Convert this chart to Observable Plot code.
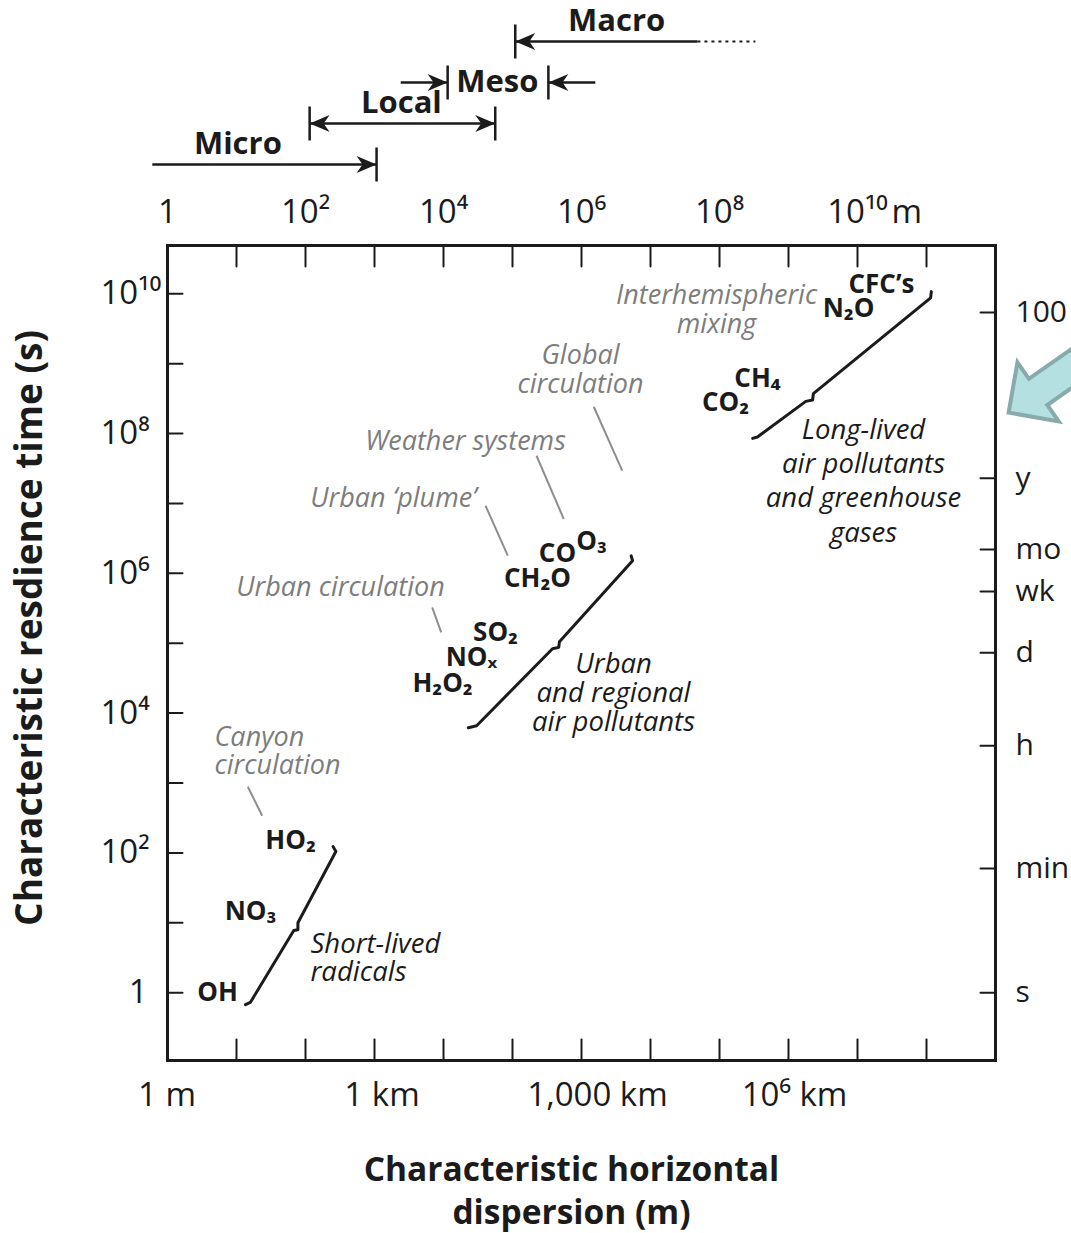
<!DOCTYPE html>
<html>
<head>
<meta charset="utf-8">
<script src="https://cdn.jsdelivr.net/npm/d3@7"></script>
<script src="https://cdn.jsdelivr.net/npm/@observablehq/plot@0.6"></script>
<style>
  html, body { margin: 0; padding: 0; background: #fff; }
  #chart svg { display: block; }
</style>
</head>
<body>
<div id="chart"></div>
<script>
// ===================== DATA (log10 values) =====================
// Top scale bars: horizontal extent in log10(metres)
const scaleRows = ["Macro", "Meso", "Local", "Micro"];
const scaleLineRow  = ["Micro", "Local", "Meso", "Meso", "Macro"];
const scaleLineFrom = [-0.22, 2.06, 3.38, 5.52, 5.04];
const scaleLineTo   = [3.03, 4.75, 4.06, 6.20, 7.68];
const scaleDottedRow  = ["Macro"];
const scaleDottedFrom = [7.68];
const scaleDottedTo   = [8.52];
const scaleBarRow = ["Micro", "Local", "Local", "Meso", "Meso", "Macro"];
const scaleBarAt  = [3.03, 2.06, 4.75, 4.06, 5.52, 5.04];
const scaleHeadRow = ["Micro", "Local", "Local", "Meso", "Meso", "Macro"];
const scaleHeadAt  = [3.03, 2.06, 4.75, 4.06, 5.52, 5.04];
const scaleHeadDir = ["right", "left", "right", "right", "left", "left"];
const scaleLabelAbove = ["Micro", "Local", "Macro"];
const scaleLabelAboveAt = [1.02, 3.39, 6.51];
const scaleLabelInline = ["Meso"];
const scaleLabelInlineAt = [4.78];

// Axes
const xDecadeTicks = [1e1, 1e2, 1e3, 1e4, 1e5, 1e6, 1e7, 1e8, 1e9, 1e10, 1e11];
const yDecadeTicks = [1, 1e1, 1e2, 1e3, 1e4, 1e5, 1e6, 1e7, 1e8, 1e9, 1e10];
const topTickValues = [1, 1e2, 1e4, 1e6, 1e8, 1e10];
const topTickLabels = ["1", "10²", "10⁴", "10⁶", "10⁸", "10¹⁰"];
const topTickUnit = "m";
const bottomLabelLogX = [-0.007, 3.109, 6.232, 9.087];
const bottomTickLabels = ["1 m", "1 km", "1,000 km", "10⁶ km"];
const leftTickValues = [1e2, 1e4, 1e6, 1e8, 1e10];
const leftTickLabels = ["10²", "10⁴", "10⁶", "10⁸", "10¹⁰"];
const leftUnitValue = [1];
const leftUnitLabel = ["1"];
const rightTickValues = [1, 60, 3.4e3, 7.3e4, 5.5e5, 2.2e6, 2.3e7, 5.4e9];
const rightTickLabels = ["s", "min", "h", "d", "wk", "mo", "y", "100"];
const xTitle = "Characteristic horizontal\ndispersion (m)";
const yTitle = "Characteristic resdience time (s)";

// Curves (log10 x in m, log10 y in s) — with end hooks and the small mid break
const shortLivedLogX = [1.13, 1.20, 1.83, 1.89, 1.89, 2.44, 2.40];
const shortLivedLogY = [-0.17, -0.14, 0.89, 0.90, 1.00, 2.02, 2.09];
const urbanLogX = [4.36, 4.48, 5.58, 5.67, 5.68, 6.74, 6.72];
const urbanLogY = [3.79, 3.82, 4.92, 4.94, 5.02, 6.18, 6.25];
const longLivedLogX = [8.48, 8.55, 9.25, 9.35, 9.36, 11.06, 11.07];
const longLivedLogY = [7.93, 7.95, 8.46, 8.48, 8.57, 9.94, 10.03];

// Species labels
const speciesLabels = ["OH", "NO₃", "HO₂", "H₂O₂", "NOₓ", "SO₂", "CH₂O", "CO", "O₃", "CO₂", "CH₄", "N₂O", "CFC’s"];
const speciesLogX = [0.725, 1.203, 1.783, 3.986, 4.406, 4.754, 5.362, 5.652, 6.145, 8.087, 8.551, 9.870, 10.348];
const speciesLogY = [0.0, 1.160, 2.175, 4.421, 4.793, 5.150, 5.923, 6.280, 6.452, 8.440, 8.784, 9.785, 10.129];

// Circulation annotations (gray)
const circLabels = ["Interhemispheric\nmixing", "Global\ncirculation", "Weather systems", "Urban ‘plume’", "Urban circulation"];
const circLogX = [7.957, 5.986, 4.319, 3.275, 2.507];
const circLogY = [9.778, 8.920, 7.897, 7.082, 5.808];
const canyonLabel = ["Canyon\ncirculation"];
const canyonLogX = [0.681];
const canyonLogY = [3.462];

// Gray leader lines
const leaderX1 = [1.164, 3.836, 4.609, 5.348, 6.178];
const leaderY1 = [2.947, 5.512, 6.967, 7.682, 8.383];
const leaderX2 = [1.372, 3.967, 4.932, 5.743, 6.590];
const leaderY2 = [2.532, 5.155, 6.252, 6.777, 7.468];

// Group descriptions (black italic)
const shortDesc = ["Short-lived\nradicals"];
const shortDescLogX = [2.072];
const shortDescLogY = [0.501];
const urbanDesc = ["Urban\nand regional\nair pollutants"];
const urbanDescLogX = [6.464];
const urbanDescLogY = [4.292];
const longDesc = ["Long-lived\nair pollutants\nand greenhouse\ngases"];
const longDescLogX = [10.087];
const longDescLogY = [7.346];

// Teal pointer arrow (tip position)
const pointerLogX = [12.19];
const pointerLogY = [8.30];

// ===================== RENDERING =====================
const font = "'Open Sans', 'Noto Sans', 'DejaVu Sans', sans-serif";
const ink = "#1b1b1b";
const gray = "#7d7d7d";
const lg = (v) => Math.pow(10, v);
const idx = (a) => a.map((_, i) => i);

const headSymbol = {draw(c) { c.moveTo(0, 0); c.lineTo(-20, -8.5); c.lineTo(-14, 0); c.lineTo(-20, 8.5); c.closePath(); }};
const barSymbol = {draw(c) { c.moveTo(0, -17); c.lineTo(0, 17); }};
const tickShape = {draw(c, l) { c.moveTo(0, 0); c.lineTo(0, -l); }};
const blockArrow = {draw(c) {
  c.moveTo(0, 0); c.lineTo(-36, -36); c.lineTo(-36, -16); c.lineTo(-160, -16);
  c.lineTo(-160, 16); c.lineTo(-36, 16); c.lineTo(-36, 36); c.closePath();
}};

const tickFont = 33;
const italicFont = 27.5;
const grayFont = 27;
const speciesFont = 26;

const topPlot = Plot.plot({
  width: 1071, height: 190,
  marginLeft: 167, marginRight: 76, marginTop: 0, marginBottom: 0,
  x: {type: "log", domain: [1, 1e12], axis: null},
  y: {type: "point", domain: scaleRows, range: [40, 165], padding: 0, axis: null},
  style: {fontFamily: font, background: "white", overflow: "visible"},
  marks: [
    Plot.link(idx(scaleLineRow), {
      x1: i => lg(scaleLineFrom[i]), x2: i => lg(scaleLineTo[i]),
      y1: i => scaleLineRow[i], y2: i => scaleLineRow[i],
      stroke: ink, strokeWidth: 2.5
    }),
    Plot.link(idx(scaleDottedRow), {
      x1: i => lg(scaleDottedFrom[i]), x2: i => lg(scaleDottedTo[i]),
      y1: i => scaleDottedRow[i], y2: i => scaleDottedRow[i],
      stroke: ink, strokeWidth: 2, strokeDasharray: "3,4"
    }),
    Plot.dot(idx(scaleBarRow), {
      x: i => lg(scaleBarAt[i]), y: i => scaleBarRow[i],
      symbol: barSymbol, stroke: ink, strokeWidth: 2.5, fill: "none"
    }),
    Plot.dot(idx(scaleHeadRow), {
      x: i => lg(scaleHeadAt[i]), y: i => scaleHeadRow[i],
      rotate: i => scaleHeadDir[i] === "left" ? 180 : 0,
      symbol: headSymbol, fill: ink, stroke: "none"
    }),
    Plot.text(scaleLabelAbove, {
      x: (d, i) => lg(scaleLabelAboveAt[i]), y: d => d, text: d => d,
      dy: -20, fontSize: 31, fontWeight: 700, fill: ink
    }),
    Plot.text(scaleLabelInline, {
      x: (d, i) => lg(scaleLabelInlineAt[i]), y: d => d, text: d => d,
      fontSize: 31, fontWeight: 700, fill: ink
    })
  ]
});

const mainPlot = Plot.plot({
  width: 1071, height: 1043,
  marginLeft: 167, marginRight: 76, marginTop: 55, marginBottom: 173,
  x: {type: "log", domain: [1, 1e12], axis: null},
  y: {type: "log", domain: [lg(-0.97), lg(10.69)], axis: null},
  style: {fontFamily: font, background: "white", overflow: "visible"},
  marks: [
    // pointer arrow (outside right edge)
    Plot.dot(idx(pointerLogX), {
      x: i => lg(pointerLogX[i]), y: i => lg(pointerLogY[i]),
      symbol: blockArrow, rotate: 145,
      fill: "#b5e0e2", stroke: "#88aaab", strokeWidth: 4, strokeLinejoin: "miter"
    }),
    // inward ticks
    Plot.vector(xDecadeTicks, {x: d => d, frameAnchor: "top", length: 21, rotate: 180, anchor: "start", shape: tickShape, stroke: ink, strokeWidth: 2}),
    Plot.vector(xDecadeTicks, {x: d => d, frameAnchor: "bottom", length: 21, rotate: 0, anchor: "start", shape: tickShape, stroke: ink, strokeWidth: 2}),
    Plot.vector(yDecadeTicks, {y: d => d, frameAnchor: "left", length: 15, rotate: 90, anchor: "start", shape: tickShape, stroke: ink, strokeWidth: 2}),
    Plot.vector(rightTickValues, {y: d => d, frameAnchor: "right", length: 15, rotate: -90, anchor: "start", shape: tickShape, stroke: ink, strokeWidth: 2}),
    Plot.frame({stroke: ink, strokeWidth: 3}),
    // tick labels
    Plot.text(topTickValues, {x: d => d, text: (d, i) => topTickLabels[i], frameAnchor: "top", dy: -33, lineAnchor: "middle", textAnchor: "middle", fontSize: tickFont, fill: ink}),
    Plot.text([1e10], {x: d => d, text: () => topTickUnit, frameAnchor: "top", dy: -33, dx: 34, lineAnchor: "middle", textAnchor: "start", fontSize: tickFont, fill: ink}),
    Plot.text(bottomTickLabels, {x: (d, i) => lg(bottomLabelLogX[i]), text: d => d, frameAnchor: "bottom", dy: 35, lineAnchor: "middle", textAnchor: "middle", fontSize: tickFont, fill: ink}),
    Plot.text(leftTickValues, {y: d => d, text: (d, i) => leftTickLabels[i], frameAnchor: "left", dx: -67, lineAnchor: "middle", textAnchor: "start", fontSize: tickFont, fill: ink}),
    Plot.text(leftUnitValue, {y: d => d, text: (d, i) => leftUnitLabel[i], frameAnchor: "left", dx: -20, lineAnchor: "middle", textAnchor: "end", fontSize: tickFont, fill: ink}),
    Plot.text(rightTickValues, {y: d => d, text: (d, i) => rightTickLabels[i], frameAnchor: "right", dx: 20, lineAnchor: "middle", textAnchor: "start", fontSize: 30, fill: ink}),
    // axis titles
    Plot.text([xTitle], {text: d => d, frameAnchor: "bottom", dy: 128, dx: -10, lineAnchor: "middle", textAnchor: "middle", lineHeight: 1.28, fontSize: 33.5, fontWeight: 700, fill: ink}),
    Plot.text([yTitle], {text: d => d, frameAnchor: "left", rotate: -90, dx: -137, dy: -25, lineAnchor: "middle", textAnchor: "middle", fontSize: 37, fontWeight: 700, fill: ink}),
    // curves
    Plot.line(idx(shortLivedLogX), {x: i => lg(shortLivedLogX[i]), y: i => lg(shortLivedLogY[i]), stroke: ink, strokeWidth: 3, strokeLinejoin: "round", strokeLinecap: "round"}),
    Plot.line(idx(urbanLogX), {x: i => lg(urbanLogX[i]), y: i => lg(urbanLogY[i]), stroke: ink, strokeWidth: 3, strokeLinejoin: "round", strokeLinecap: "round"}),
    Plot.line(idx(longLivedLogX), {x: i => lg(longLivedLogX[i]), y: i => lg(longLivedLogY[i]), stroke: ink, strokeWidth: 3, strokeLinejoin: "round", strokeLinecap: "round"}),
    // leader lines
    Plot.link(idx(leaderX1), {x1: i => lg(leaderX1[i]), y1: i => lg(leaderY1[i]), x2: i => lg(leaderX2[i]), y2: i => lg(leaderY2[i]), stroke: "#8e8e8e", strokeWidth: 2}),
    // circulation annotations
    Plot.text(circLabels, {x: (d, i) => lg(circLogX[i]), y: (d, i) => lg(circLogY[i]), text: d => d, lineHeight: 1.07, fontSize: grayFont, fontStyle: "italic", fill: gray}),
    Plot.text(canyonLabel, {x: (d, i) => lg(canyonLogX[i]), y: (d, i) => lg(canyonLogY[i]), text: d => d, textAnchor: "start", lineHeight: 1.04, fontSize: grayFont, fontStyle: "italic", fill: gray}),
    // species
    Plot.text(speciesLabels, {x: (d, i) => lg(speciesLogX[i]), y: (d, i) => lg(speciesLogY[i]), text: d => d, fontSize: speciesFont, fontWeight: 700, fill: ink}),
    // descriptions
    Plot.text(shortDesc, {x: (d, i) => lg(shortDescLogX[i]), y: (d, i) => lg(shortDescLogY[i]), text: d => d, textAnchor: "start", lineHeight: 1.02, fontSize: italicFont, fontStyle: "italic", fill: ink}),
    Plot.text(urbanDesc, {x: (d, i) => lg(urbanDescLogX[i]), y: (d, i) => lg(urbanDescLogY[i]), text: d => d, lineHeight: 1.05, fontSize: italicFont, fontStyle: "italic", fill: ink}),
    Plot.text(longDesc, {x: (d, i) => lg(longDescLogX[i]), y: (d, i) => lg(longDescLogY[i]), text: d => d, lineHeight: 1.25, fontSize: italicFont, fontStyle: "italic", fill: ink})
  ]
});

const chart = document.getElementById("chart");
chart.appendChild(topPlot);
chart.appendChild(mainPlot);
</script>
</body>
</html>
